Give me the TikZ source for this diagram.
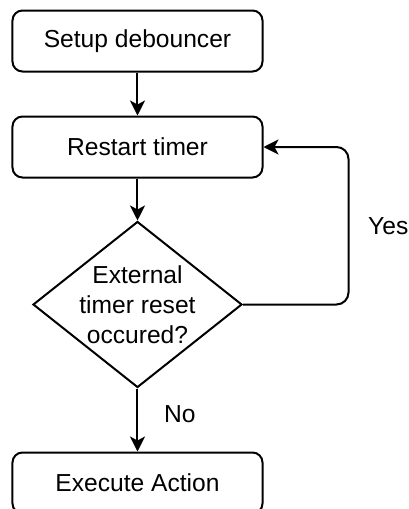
\documentclass[tikz,border=0pt]{standalone}
\usepackage{fontspec}
\setmainfont{Liberation Sans}
\usetikzlibrary{arrows.meta,positioning,shapes.geometric}

\begin{document}
\begin{tikzpicture}[>={Stealth[length=7.5pt,width=7.5pt,inset=2pt]},node distance=21.5pt,
  every node/.style={font=\fontsize{12.3}{15}\selectfont},
  stepbox/.style={rectangle,draw,line width=1pt,rounded corners=5pt,minimum width=125pt,minimum height=30.5pt},
  decision/.style={diamond,draw,line width=1pt,inner sep=-8pt,minimum width=104.5pt,minimum height=83pt,align=center}]
\useasboundingbox (-68.75pt,20.5pt) rectangle (135.25pt,-234pt);
\node[stepbox] (setup) {Setup debouncer};
\node[stepbox] (restart) [below=of setup] {Restart timer};
\node[decision] (check) [below=21pt of restart] {External\\timer reset\\occured?};
\node[stepbox] (action) [below=31.5pt of check] {Execute Action};
\draw[->,line width=1pt] (setup)--(restart);
\draw[->,line width=1pt] (restart)--(check);
\draw[->,line width=1pt] (check)-- node[pos=0.4,right=9.5pt] (no) {No} (action);
\draw[->,line width=1pt,rounded corners=6pt] (check.east) -| node[pos=0.75,right=6pt] (yes) {Yes} ([xshift=42.5pt]restart.east) -- (restart.east);
\end{tikzpicture}
\end{document}
